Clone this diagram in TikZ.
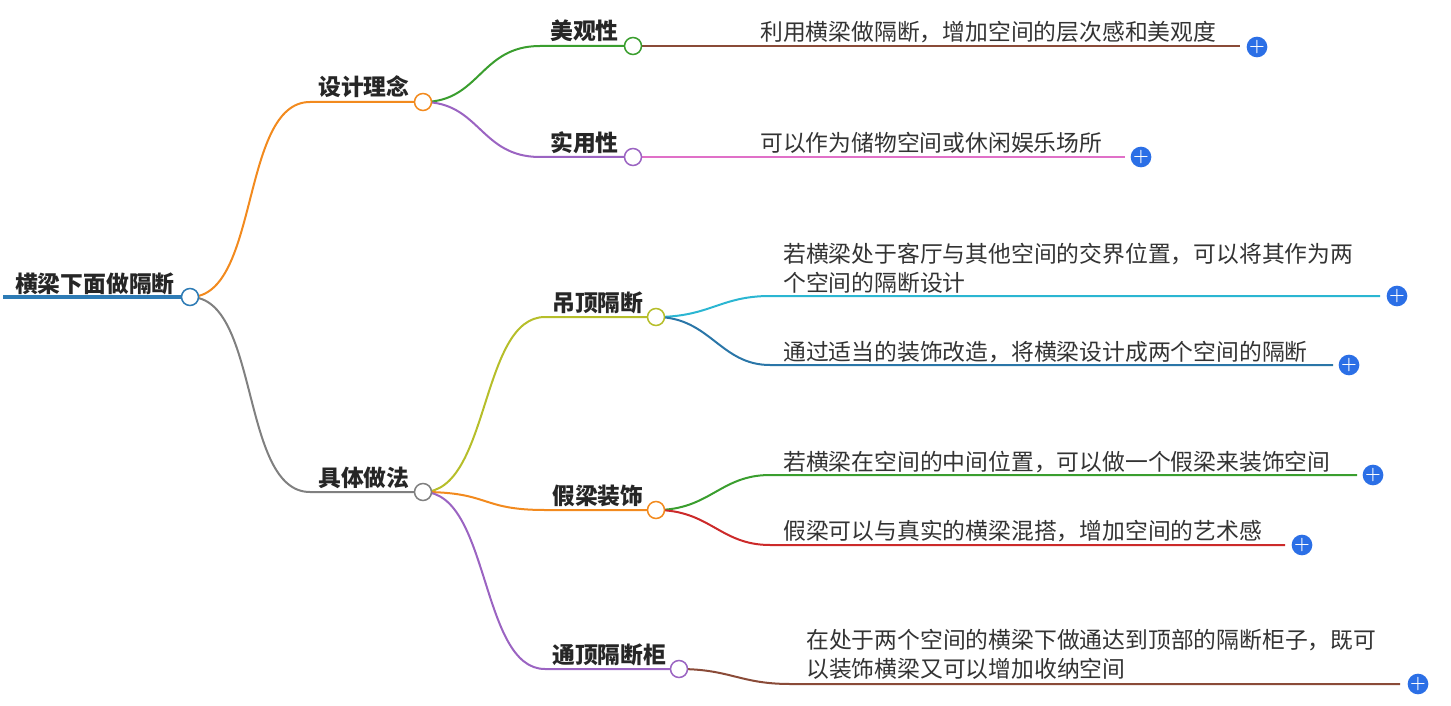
\documentclass[tikz,border=0pt]{standalone}
\usepackage{fontspec}
\newfontfamily\cjk{Noto Sans CJK SC}
\begin{document}
\begin{tikzpicture}[x=1pt,y=-1pt,
  lf/.style={font=\cjk\fontsize{22.8}{29}\selectfont,text=black!80,anchor=base west,inner sep=0pt,align=left},
  hd/.style={font=\cjk\bfseries\fontsize{22.8}{29}\selectfont,text=black!85,anchor=base west,inner sep=0pt},
  dot/.style={circle,draw,fill=white,line width=1.5pt,minimum size=17pt,inner sep=0pt},
  plus/.style={circle,minimum size=20pt,inner sep=0pt,text=white,font=\bfseries\fontsize{18}{18}\selectfont},
  ln/.style={line width=2pt}]
\definecolor{cor}{HTML}{F28A1E}\definecolor{cgy}{HTML}{808080}
\definecolor{cgr}{HTML}{3A9E2E}\definecolor{cpu}{HTML}{9B64C2}
\definecolor{cbr}{HTML}{8A4B38}\definecolor{cpk}{HTML}{E070C8}
\definecolor{col}{HTML}{B6BE2A}\definecolor{ccy}{HTML}{2BB6D2}
\definecolor{ctl}{HTML}{2A76A8}\definecolor{crd}{HTML}{CC2A2A}
\definecolor{cbl}{HTML}{2D7BB5}\definecolor{cpl}{HTML}{2B6FE6}
\useasboundingbox (0,0) rectangle (1451,706);
\tikzset{plus/.append style={fill=cpl}}
% root
\draw[cbl,line width=4.5pt] (3,297) -- (182,297);
\node[hd] at (15,292) {横梁下面做隔断};
% level 1 lines
\draw[cor,ln] (190,297) .. controls (260,297) and (240,102) .. (310,102) -- (423,102);
\draw[cgy,ln] (190,297) .. controls (260,297) and (240,492) .. (310,492) -- (423,492);
\node[hd] at (318,96) {设计理念};
\node[hd] at (318,486) {具体做法};
% level 2
\draw[cgr,ln] (423,102) .. controls (480,102) and (480,46) .. (540,46) -- (633,46);
\draw[cpu,ln] (423,102) .. controls (480,102) and (480,157) .. (540,157) -- (633,157);
\draw[col,ln] (423,492) .. controls (490,492) and (480,317) .. (545,317) -- (656,317);
\draw[cor,ln] (423,492) .. controls (490,492) and (480,510) .. (545,510) -- (656,510);
\draw[cpu,ln] (423,492) .. controls (490,492) and (480,669) .. (545,669) -- (679,669);
\node[hd] at (550,40) {美观性};
\node[hd] at (550,151) {实用性};
\node[hd] at (552,311) {吊顶隔断};
\node[hd] at (552,504) {假梁装饰};
\node[hd] at (552,663) {通顶隔断柜};
% leaves
\draw[cbr,ln] (633,46) -- (1240,46);
\draw[cpk,ln] (633,157) -- (1125,157);
\draw[ccy,ln] (656,317) .. controls (710,317) and (720,296) .. (770,296) -- (1380,296);
\draw[ctl,ln] (656,317) .. controls (710,317) and (720,365) .. (770,365) -- (1333,365);
\draw[cgr,ln] (656,510) .. controls (710,510) and (720,475) .. (770,475) -- (1357,475);
\draw[crd,ln] (656,510) .. controls (710,510) and (720,545) .. (770,545) -- (1285,545);
\draw[cbr,ln] (679,669) .. controls (730,669) and (740,684) .. (790,684) -- (1400,684);
\node[lf] at (760,41) {利用横梁做隔断，增加空间的层次感和美观度};
\node[lf] at (760,152) {可以作为储物空间或休闲娱乐场所};
\node[lf] at (783,291) {若横梁处于客厅与其他空间的交界位置，可以将其作为两\\个空间的隔断设计};
\node[lf] at (783,360) {通过适当的装饰改造，将横梁设计成两个空间的隔断};
\node[lf] at (783,470) {若横梁在空间的中间位置，可以做一个假梁来装饰空间};
\node[lf] at (783,539) {假梁可以与真实的横梁混搭，增加空间的艺术感};
\node[lf] at (806,677) {在处于两个空间的横梁下做通达到顶部的隔断柜子，既可\\以装饰横梁又可以增加收纳空间};
% dots
\node[dot,draw=cbl] (r) at (190,297) {};
\node[dot,draw=cor] (a) at (423,102) {};
\node[dot,draw=cgy] (b) at (423,492) {};
\node[dot,draw=cgr] (a1) at (633,46) {};
\node[dot,draw=cpu] (a2) at (633,157) {};
\node[dot,draw=col] (b1) at (656,317) {};
\node[dot,draw=cor] (b2) at (656,510) {};
\node[dot,draw=cpu] (b3) at (679,669) {};
% plus
\foreach \x/\y in {1257/47,1141/157,1397/296,1349/365,1373/475,1302/545,1418/684}
  \node[plus] at (\x,\y) {+};
\end{tikzpicture}
\end{document}
